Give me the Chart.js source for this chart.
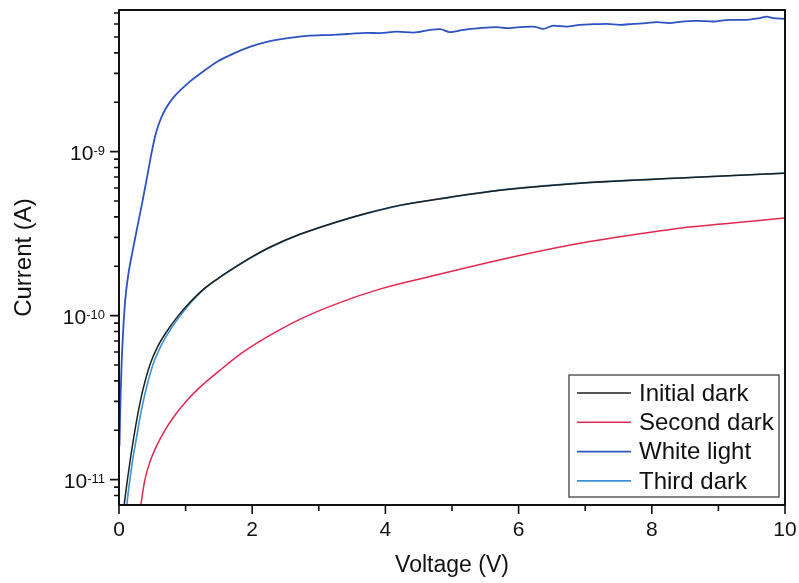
<!DOCTYPE html>
<html>
<head>
<meta charset="utf-8">
<script src="https://cdn.jsdelivr.net/npm/chart.js@4.4.0/dist/chart.umd.min.js"></script>
<style>
  html, body { margin: 0; padding: 0; background: #fff; }
</style>
</head>
<body>
<canvas id="ivChart" width="799" height="583"></canvas>
<script>
// I-V sweeps: voltage (V) and current (A)
const initialV = [0.07, 0.078, 0.101, 0.131, 0.176, 0.221, 0.281, 0.356, 0.461, 0.582, 0.717, 0.882, 1.062, 1.287, 1.512, 1.768, 1.963, 2.264, 2.714, 3.21, 3.72, 4.216, 4.968, 5.719, 6.921, 8.423, 10];
const initialI = [6.0e-12, 6.93e-12, 8.32e-12, 1.03e-11, 1.38e-11, 1.80e-11, 2.49e-11, 3.49e-11, 4.97e-11, 6.49e-11, 8.00e-11, 9.89e-11, 1.20e-10, 1.47e-10, 1.71e-10, 2.00e-10, 2.24e-10, 2.61e-10, 3.13e-10, 3.66e-10, 4.21e-10, 4.70e-10, 5.27e-10, 5.82e-10, 6.42e-10, 6.89e-10, 7.39e-10];

const secondV = [0.30, 0.326, 0.386, 0.461, 0.566, 0.687, 0.837, 1.017, 1.212, 1.512, 1.857, 2.264, 2.714, 3.315, 3.916, 4.667, 5.418, 6.169, 6.92, 7.671, 8.422, 9.173, 10];
const secondI = [6.0e-12, 6.93e-12, 9.85e-12, 1.27e-11, 1.61e-11, 1.99e-11, 2.46e-11, 3.03e-11, 3.65e-11, 4.63e-11, 5.96e-11, 7.57e-11, 9.49e-11, 1.20e-10, 1.45e-10, 1.73e-10, 2.05e-10, 2.40e-10, 2.76e-10, 3.09e-10, 3.41e-10, 3.66e-10, 3.93e-10];

const whiteV = [0.0075, 0.015, 0.026, 0.041, 0.063, 0.093, 0.138, 0.206, 0.281, 0.356, 0.424, 0.491, 0.551, 0.626, 0.716, 0.822, 0.942, 1.077, 1.212, 1.468, 1.708, 1.963, 2.219, 2.459, 2.82, 3.21, 3.466, 3.72,
  3.92, 4.17, 4.42, 4.67, 4.82, 4.97, 5.17, 5.42, 5.67, 5.82, 6.02, 6.22, 6.37, 6.52, 6.72, 6.92, 7.12, 7.32, 7.52, 7.72,
  7.92, 8.07, 8.27, 8.42, 8.67, 8.92, 9.17, 9.42, 9.62, 9.72, 9.82, 10];
const whiteI = [1.61e-11, 2.29e-11, 3.49e-11, 5.32e-11, 8.12e-11, 1.24e-10, 1.76e-10, 2.50e-10, 3.56e-10, 5.06e-10, 7.08e-10, 9.93e-10, 1.28e-9, 1.58e-9, 1.87e-9, 2.15e-9, 2.41e-9, 2.70e-9, 2.97e-9, 3.52e-9, 3.94e-9, 4.35e-9, 4.67e-9, 4.87e-9, 5.08e-9, 5.15e-9, 5.22e-9, 5.30e-9,
  5.27e-9, 5.39e-9, 5.32e-9, 5.52e-9, 5.58e-9, 5.35e-9, 5.52e-9, 5.66e-9, 5.74e-9, 5.66e-9, 5.74e-9, 5.78e-9, 5.60e-9, 5.86e-9, 5.78e-9, 5.93e-9, 5.98e-9, 6.01e-9, 5.93e-9, 6.01e-9,
  6.07e-9, 6.15e-9, 6.07e-9, 6.18e-9, 6.27e-9, 6.21e-9, 6.36e-9, 6.36e-9, 6.52e-9, 6.66e-9, 6.52e-9, 6.45e-9];

const thirdV = [0.11, 0.117, 0.138, 0.168, 0.213, 0.263, 0.323, 0.401, 0.506, 0.626, 0.754, 0.912, 1.077, 1.295, 1.512, 1.768, 1.963, 2.264, 2.714, 3.21, 3.72, 4.216, 4.968, 5.719, 6.921, 8.423, 10];
const thirdI = [6.3e-12, 6.93e-12, 8.32e-12, 1.03e-11, 1.38e-11, 1.80e-11, 2.49e-11, 3.49e-11, 4.97e-11, 6.49e-11, 8.00e-11, 9.89e-11, 1.20e-10, 1.47e-10, 1.71e-10, 2.00e-10, 2.23e-10, 2.60e-10, 3.12e-10, 3.66e-10, 4.20e-10, 4.70e-10, 5.26e-10, 5.82e-10, 6.42e-10, 6.90e-10, 7.40e-10];

const seriesNames = ['Initial dark', 'Second dark', 'White light', 'Third dark'];
const seriesColors = ['#1e1e1e', '#e2284f', '#2d52c2', '#3b92d6'];

const xMajorTicks = [0, 2, 4, 6, 8, 10];
const xMinorTicks = [1, 3, 5, 7, 9];
const yMajorTicks = [1e-11, 1e-10, 1e-9];
const yExponents = ['-11', '-10', '-9'];
const yMinorTicks = [8e-12, 9e-12, 2e-11, 3e-11, 4e-11, 5e-11, 6e-11, 7e-11, 8e-11, 9e-11,
  2e-10, 3e-10, 4e-10, 5e-10, 6e-10, 7e-10, 8e-10, 9e-10, 2e-9, 3e-9, 4e-9, 5e-9, 6e-9, 7e-9];

const FONT = "'Liberation Sans', Arial, sans-serif";

function pts(xs, ys) {
  return xs.map((v, i) => ({ x: v, y: ys[i] }));
}

// frame, tick marks, 10^n labels and the boxed legend
const origin = {
  id: 'origin',
  afterDraw(chart) {
    const { ctx, chartArea: a, scales: { x, y } } = chart;
    ctx.save();
    ctx.strokeStyle = '#111';
    ctx.fillStyle = '#111';
    ctx.lineWidth = 1.6;
    ctx.beginPath();
    xMajorTicks.forEach(v => { const p = x.getPixelForValue(v); ctx.moveTo(p, a.bottom); ctx.lineTo(p, a.bottom + 9); });
    xMinorTicks.forEach(v => { const p = x.getPixelForValue(v); ctx.moveTo(p, a.bottom); ctx.lineTo(p, a.bottom + 6); });
    yMajorTicks.forEach(v => { const p = y.getPixelForValue(v); ctx.moveTo(a.left, p); ctx.lineTo(a.left - 9, p); });
    yMinorTicks.forEach(v => {
      if (v < y.min || v > y.max) return;
      const p = y.getPixelForValue(v); ctx.moveTo(a.left, p); ctx.lineTo(a.left - 5, p);
    });
    ctx.stroke();
    ctx.lineWidth = 2;
    ctx.strokeRect(a.left, a.top, a.right - a.left, a.bottom - a.top);

    // y labels as 10 with a raised exponent
    yMajorTicks.forEach((v, i) => {
      const p = y.getPixelForValue(v);
      const right = a.left - 14;
      ctx.textAlign = 'right';
      ctx.textBaseline = 'alphabetic';
      ctx.font = '13px ' + FONT;
      ctx.fillText(yExponents[i], right, p + 3);
      const w = ctx.measureText(yExponents[i]).width;
      ctx.font = '21px ' + FONT;
      ctx.fillText('10', right - w, p + 8);
    });

    // legend box in the lower right corner
    const bx = a.right - 216, by = a.bottom - 130, bw = 210, bh = 122;
    ctx.fillStyle = '#fff';
    ctx.fillRect(bx, by, bw, bh);
    ctx.lineWidth = 1.2;
    ctx.strokeStyle = '#333';
    ctx.strokeRect(bx, by, bw, bh);
    ctx.font = '24px ' + FONT;
    ctx.textAlign = 'left';
    ctx.textBaseline = 'middle';
    chart.data.datasets.forEach((ds, i) => {
      const ry = by + 18 + i * 29.3;
      ctx.strokeStyle = ds.borderColor;
      ctx.lineWidth = ds.borderWidth;
      ctx.beginPath();
      ctx.moveTo(bx + 8, ry);
      ctx.lineTo(bx + 62, ry);
      ctx.stroke();
      ctx.fillStyle = '#111';
      ctx.fillText(ds.label, bx + 70, ry + 1);
    });
    ctx.restore();
  }
};

new Chart(document.getElementById('ivChart'), {
  type: 'line',
  data: {
    datasets: [
      { label: seriesNames[0], data: pts(initialV, initialI), borderColor: seriesColors[0], borderWidth: 1.5 },
      { label: seriesNames[1], data: pts(secondV, secondI), borderColor: seriesColors[1], borderWidth: 1.5 },
      { label: seriesNames[2], data: pts(whiteV, whiteI), borderColor: seriesColors[2], borderWidth: 1.8 },
      { label: seriesNames[3], data: pts(thirdV, thirdI), borderColor: seriesColors[3], borderWidth: 1.6 }
    ]
  },
  options: {
    responsive: false,
    animation: false,
    devicePixelRatio: 1,
    layout: { padding: { top: 10, right: 14, left: 0, bottom: 0 } },
    elements: {
      point: { radius: 0 },
      line: { cubicInterpolationMode: 'monotone', fill: false }
    },
    plugins: { legend: { display: false }, tooltip: { enabled: false } },
    scales: {
      x: {
        type: 'linear', min: 0, max: 10,
        afterBuildTicks: s => { s.ticks = xMajorTicks.map(v => ({ value: v })); },
        afterFit: s => { s.height = 78; s.paddingLeft = 0; s.paddingRight = 0; },
        grid: { display: false },
        border: { display: false },
        ticks: { padding: 5, color: '#111', maxRotation: 0, font: { size: 21, family: FONT } },
        title: { display: true, text: 'Voltage (V)', color: '#111', font: { size: 23, family: FONT }, padding: { top: 0, bottom: 4 } }
      },
      y: {
        type: 'logarithmic', min: 7e-12, max: 7.3e-9,
        afterBuildTicks: s => { s.ticks = yMajorTicks.map(v => ({ value: v })); },
        afterFit: s => { s.width = 119; },
        grid: { display: false },
        border: { display: false },
        ticks: { display: false },
        title: { display: true, text: 'Current (A)', color: '#111', font: { size: 24, family: FONT }, padding: { top: 10, bottom: 0 } }
      }
    }
  },
  plugins: [origin]
});
</script>
</body>
</html>
